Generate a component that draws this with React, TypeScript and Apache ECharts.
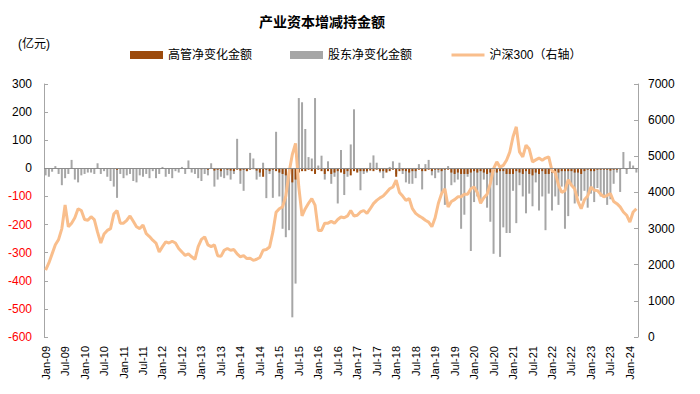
import React, { useEffect, useRef } from "react";
import * as echarts from "echarts";

const MONTHS = ["Jan", "Feb", "Mar", "Apr", "May", "Jun", "Jul", "Aug", "Sep", "Oct", "Nov", "Dec"];
const YEARS = ["09", "10", "11", "12", "13", "14", "15", "16", "17", "18", "19", "20", "21", "22", "23", "24"];
const categories: string[] = [];
YEARS.forEach((y) => MONTHS.forEach((m) => categories.push(`${m}-${y}`)));
categories.length = 183; // Jan-09 .. Mar-24

// 股东净变化金额 (亿元)
const shareholders2009 = [-25, -30, -12, 8, -20, -60, -35, -20, 30, -40, -50, -25];
const shareholders2010 = [-20, -15, -15, -20, 18, -20, -10, -30, -45, -65, -105, -20];
const shareholders2011 = [-35, -25, -20, -45, -50, -25, -30, -20, -35, -10, -35, -20];
const shareholders2012 = [5, -30, -20, -35, -10, -15, 5, -20, 28, -15, -20, -35];
const shareholders2013 = [-45, -20, -25, 18, -65, -40, -30, -35, -25, -40, -20, 105];
const shareholders2014 = [-55, -80, -10, 55, 35, -40, -30, 20, -106, -20, -105, 130];
const shareholders2015 = [-100, -215, -245, -220, -530, -410, 250, 235, 140, 40, 35, 250];
const shareholders2016 = [10, 45, -40, 25, -55, -30, -125, 65, -95, -30, 85, 210];
const shareholders2017 = [-10, -78, -20, -15, 20, 46, 20, -15, -35, -10, 5, 25];
const shareholders2018 = [-20, 20, -20, -50, -55, -55, -35, 15, -75, 15, 30, -25];
const shareholders2019 = [-35, -15, -87, -130, 8, -60, -50, -40, -215, -165, -30, -294];
const shareholders2020 = [-120, -100, -120, -40, -140, -190, -304, -60, -315, -210, -230, -230];
const shareholders2021 = [-80, -195, -60, -100, -160, -90, -135, -50, -150, -100, -220, -90];
const shareholders2022 = [-150, -100, -130, -65, -215, -170, -60, -125, -100, -115, -80, -140];
const shareholders2023 = [-90, -120, -70, -100, -100, -130, -110, -55, -15, -84, 58, -20];
const shareholders2024 = [25, 10, -15];

// 高管净变化金额 (亿元)
const executives2009 = [0, -2, 0, 0, -2, 0, 0, -2, 0, 0, -2, 0];
const executives2010 = [0, 0, -2, 0, 0, -2, 0, 0, -2, 0, -5, -2];
const executives2011 = [-2, 0, 0, -2, 0, 0, -2, 0, 0, -2, 0, 0];
const executives2012 = [0, -2, 0, 0, -2, 0, 0, -2, 0, -2, 0, -2];
const executives2013 = [-3, 0, -5, 0, -8, -5, -10, -3, -5, -8, -10, -5];
const executives2014 = [-8, -5, -10, -5, -3, -8, -15, -30, -5, -10, -5, -10];
const executives2015 = [-15, -20, -25, -20, -50, -40, -15, -10, -10, -5, -10, -20];
const executives2016 = [-5, -10, -20, -10, -20, -15, -10, -15, -20, -10, -25, -10];
const executives2017 = [-15, -10, -10, -10, -8, -10, -5, -10, -10, -15, -10, -5];
const executives2018 = [-30, -10, -8, -10, -15, -10, -10, -5, -10, -10, -5, -10];
const executives2019 = [-5, -5, -10, -5, -5, -15, -20, -15, -20, -20, -20, -15];
const executives2020 = [-10, -15, -10, -15, -20, -15, -10, -15, -10, -10, -20, -20];
const executives2021 = [-20, -10, -15, -20, -10, -20, -25, -15, -20, -10, -20, -20];
const executives2022 = [-15, -20, -15, -10, -10, -10, -10, -15, -15, -20, -10, -5];
const executives2023 = [-10, -10, -5, -5, -5, -5, -8, -5, -5, -3, 0, -3];
const executives2024 = [0, 0, 0];

// 沪深300 (右轴)
const hs2009 = [1850, 2050, 2300, 2550, 2700, 3000, 3650, 3050, 3150, 3300, 3550, 3500];
const hs2010 = [3250, 3230, 3330, 3250, 2900, 2600, 2850, 2950, 3000, 3400, 3500, 3150];
const hs2011 = [3150, 3230, 3350, 3200, 3050, 3000, 3100, 2860, 2780, 2680, 2600, 2350];
const hs2012 = [2500, 2630, 2600, 2650, 2600, 2450, 2350, 2260, 2300, 2220, 2150, 2500];
const hs2013 = [2700, 2770, 2550, 2500, 2550, 2250, 2230, 2400, 2450, 2400, 2420, 2300];
const hs2014 = [2220, 2250, 2170, 2180, 2120, 2150, 2200, 2400, 2420, 2490, 2900, 3450];
const hs2015 = [3550, 3600, 3900, 4550, 5050, 5355, 4150, 3350, 3550, 3700, 3830, 3650];
const hs2016 = [2950, 2950, 3150, 3150, 3200, 3150, 3250, 3320, 3300, 3350, 3500, 3350];
const hs2017 = [3370, 3460, 3500, 3420, 3550, 3690, 3780, 3850, 3900, 4000, 4100, 4150];
const hs2018 = [4340, 4000, 3900, 3780, 3830, 3550, 3420, 3350, 3300, 3230, 3180, 3050];
const hs2019 = [3300, 3700, 3970, 4100, 3600, 3750, 3800, 3880, 3880, 3950, 3950, 4100];
const hs2020 = [4150, 4000, 3700, 3850, 3950, 4245, 4660, 4845, 4700, 4750, 4890, 5120];
const hs2021 = [5540, 5815, 5120, 4985, 5310, 5200, 4845, 4900, 4950, 4890, 4950, 4985];
const hs2022 = [4600, 4550, 4200, 4000, 4050, 4350, 4200, 4100, 3750, 3550, 3800, 3900];
const hs2023 = [4150, 4060, 4050, 3950, 3880, 3920, 3970, 3750, 3690, 3600, 3460, 3370];
const hs2024 = [3180, 3460, 3550];

const shareholders = [
  ...shareholders2009, ...shareholders2010, ...shareholders2011, ...shareholders2012,
  ...shareholders2013, ...shareholders2014, ...shareholders2015, ...shareholders2016,
  ...shareholders2017, ...shareholders2018, ...shareholders2019, ...shareholders2020,
  ...shareholders2021, ...shareholders2022, ...shareholders2023, ...shareholders2024,
];
const executives = [
  ...executives2009, ...executives2010, ...executives2011, ...executives2012,
  ...executives2013, ...executives2014, ...executives2015, ...executives2016,
  ...executives2017, ...executives2018, ...executives2019, ...executives2020,
  ...executives2021, ...executives2022, ...executives2023, ...executives2024,
];
const hs300 = [
  ...hs2009, ...hs2010, ...hs2011, ...hs2012, ...hs2013, ...hs2014, ...hs2015, ...hs2016,
  ...hs2017, ...hs2018, ...hs2019, ...hs2020, ...hs2021, ...hs2022, ...hs2023, ...hs2024,
];

const FONT = '"Liberation Sans", Arial, "Noto Sans CJK SC", sans-serif';
const AXIS_GREY = "#A6A6A6";
const LINE_COLOR = "#F9BE8C";

export default function App() {
  const ref = useRef<HTMLDivElement>(null);
  useEffect(() => {
    if (!ref.current) return;
    const chart = echarts.init(ref.current, null, { renderer: "svg" });
    chart.setOption({
      animation: false,
      backgroundColor: "#fff",
      textStyle: { fontFamily: FONT },
      title: {
        text: "产业资本增减持金额",
        left: 254,
        top: 10,
        textStyle: { fontSize: 14, fontWeight: "bold", color: "#000", fontFamily: FONT },
      },
      graphic: [
        {
          type: "text",
          left: 18,
          top: 38,
          style: { text: "(亿元)", fontSize: 12, fill: "#000", fontFamily: FONT },
        },
      ],
      legend: {
        left: 125,
        top: 44,
        itemWidth: 33,
        itemHeight: 8,
        itemGap: 38,
        textStyle: { fontSize: 12, color: "#000", fontFamily: FONT },
        data: [
          { name: "高管净变化金额", icon: "rect" },
          { name: "股东净变化金额", icon: "rect" },
          { name: "沪深300（右轴）", itemStyle: { opacity: 0 }, lineStyle: { color: LINE_COLOR, width: 3 } },
        ],
      },
      grid: { left: 44, right: 62, top: 84, bottom: 57, containLabel: false },
      xAxis: [
        {
          type: "category",
          data: categories,
          boundaryGap: true,
          axisLine: { show: false, onZero: false },
          axisTick: { show: false },
          axisLabel: {
            interval: 5,
            rotate: 90,
            fontSize: 11,
            color: "#000",
            margin: 9,
            fontFamily: FONT,
          },
          splitLine: { show: false },
        },
      ],
      yAxis: [
        {
          type: "value",
          min: -600,
          max: 300,
          interval: 100,
          axisLine: { show: true, lineStyle: { color: AXIS_GREY } },
          axisTick: { show: true, inside: true, length: 4, lineStyle: { color: AXIS_GREY } },
          splitLine: { show: false },
          axisLabel: {
            fontSize: 12,
            margin: 12,
            fontFamily: FONT,
            formatter: (v: number) => String(v),
            color: (v: any) => (Number(v) < 0 ? "#FF0000" : "#000"),
          },
        },
        {
          type: "value",
          min: 0,
          max: 7000,
          interval: 1000,
          position: "right",
          axisLine: { show: true, lineStyle: { color: AXIS_GREY } },
          axisTick: { show: true, inside: true, length: 4, lineStyle: { color: AXIS_GREY } },
          splitLine: { show: false },
          axisLabel: {
            fontSize: 12,
            margin: 10,
            color: "#000",
            fontFamily: FONT,
            formatter: (v: number) => String(v),
          },
        },
      ],
      series: [
        {
          name: "股东净变化金额",
          type: "bar",
          data: shareholders,
          barWidth: 2,
          itemStyle: { color: "#A6A6A6" },
          markLine: {
            symbol: "none",
            silent: true,
            label: { show: false },
            lineStyle: { color: "#8C8C8C", width: 1, type: "solid" },
            data: [{ yAxis: 0 }],
          },
        },
        {
          name: "高管净变化金额",
          type: "bar",
          data: executives,
          barWidth: 2,
          barGap: "-100%",
          itemStyle: { color: "#9C4A0C" },
        },
        {
          name: "沪深300（右轴）",
          type: "line",
          yAxisIndex: 1,
          data: hs300,
          symbol: "none",
          lineStyle: { color: LINE_COLOR, width: 3 },
          itemStyle: { color: LINE_COLOR },
        },
      ],
    });
    return () => chart.dispose();
  }, []);
  return (
    <div
      ref={ref}
      style={{ position: "fixed", left: 0, top: 0, width: 700, height: 394 }}
    />
  );
}
